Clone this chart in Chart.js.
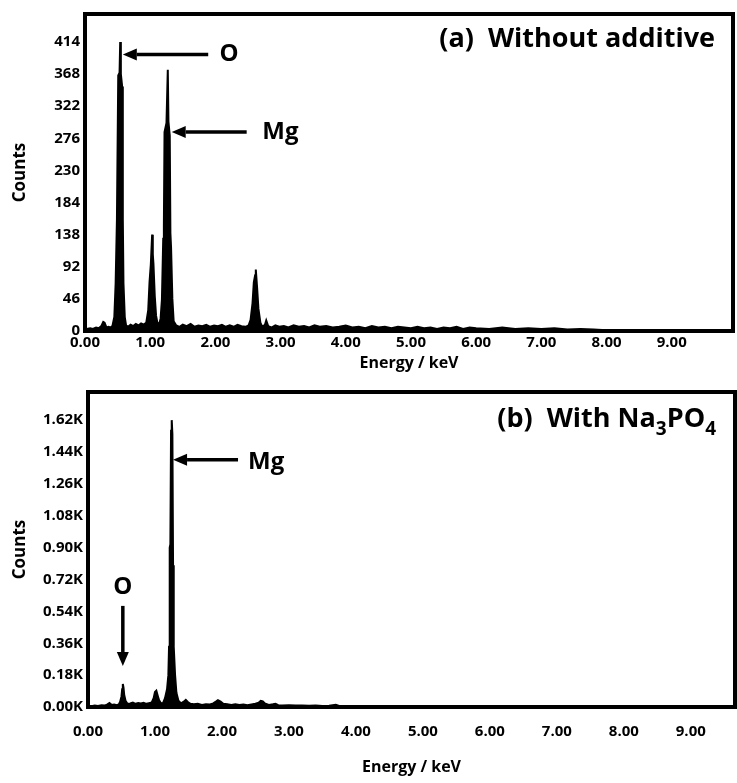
<!DOCTYPE html>
<html>
<head>
<meta charset="utf-8">
<script src="https://cdn.jsdelivr.net/npm/chart.js@4.4.1/dist/chart.umd.min.js"></script>
<style>
  html, body { margin: 0; padding: 0; background: #fff; }
  #wrap { position: relative; width: 737px; height: 783px; }
  .panel { position: absolute; left: 0; width: 737px; }
  #pa { top: 0; height: 378px; }
  #pb { top: 378px; height: 405px; }
</style>
</head>
<body>
<div id="wrap">
  <div class="panel" id="pa"><canvas id="chartA"></canvas></div>
  <div class="panel" id="pb"><canvas id="chartB"></canvas></div>
</div>
<script>
// panel (a): without additive
const energyA = [0.00, 0.03, 0.08, 0.12, 0.17, 0.21, 0.25, 0.28, 0.30, 0.33, 0.36, 0.39, 0.42, 0.45, 0.47, 0.49, 0.51, 0.53, 0.54, 0.55, 0.57, 0.58, 0.59, 0.61, 0.63, 0.66, 0.70, 0.74, 0.78, 0.82, 0.86, 0.90, 0.94, 0.97, 0.99, 1.01, 1.03, 1.04, 1.05, 1.07, 1.09, 1.11, 1.14, 1.16, 1.18, 1.20, 1.21, 1.22, 1.25, 1.27, 1.28, 1.30, 1.31, 1.32, 1.34, 1.36, 1.40, 1.45, 1.50, 1.56, 1.62, 1.68, 1.74, 1.80, 1.86, 1.92, 1.98, 2.04, 2.10, 2.16, 2.22, 2.28, 2.34, 2.40, 2.46, 2.51, 2.54, 2.57, 2.59, 2.61, 2.62, 2.64, 2.66, 2.69, 2.72, 2.76, 2.78, 2.81, 2.86, 2.92, 2.98, 3.05, 3.12, 3.20, 3.28, 3.36, 3.44, 3.52, 3.60, 3.70, 3.80, 3.90, 4.00, 4.10, 4.20, 4.30, 4.40, 4.50, 4.60, 4.70, 4.80, 4.90, 5.00, 5.10, 5.20, 5.30, 5.40, 5.50, 5.60, 5.70, 5.80, 5.90, 6.00, 6.20, 6.40, 6.60, 6.80, 7.00, 7.20, 7.40, 7.60, 7.80, 8.00, 8.50, 9.00, 9.94];
const countsA = [0, 3, 4, 3, 5, 4, 7, 13, 12, 5, 6, 5, 7, 20, 68, 160, 366, 370, 414, 368, 350, 160, 68, 20, 8, 6, 9, 7, 10, 8, 11, 9, 12, 30, 70, 96, 138, 110, 96, 50, 22, 12, 10, 18, 45, 132, 150, 285, 298, 374, 300, 280, 140, 120, 46, 14, 8, 6, 9, 7, 10, 6, 8, 7, 9, 6, 8, 7, 9, 6, 8, 6, 9, 7, 6, 8, 16, 40, 70, 80, 88, 62, 32, 12, 6, 9, 15, 7, 5, 8, 6, 7, 5, 8, 6, 7, 5, 8, 6, 7, 5, 6, 8, 5, 6, 4, 7, 5, 6, 4, 6, 5, 4, 6, 4, 5, 3, 5, 4, 6, 3, 5, 4, 3, 5, 3, 4, 3, 4, 2, 3, 2, 1, 1, 0, 0];
const yTicksA = [0, 46, 92, 138, 184, 230, 276, 322, 368, 414];

// panel (b): with Na3PO4
const energyB = [0.00, 0.05, 0.10, 0.15, 0.20, 0.25, 0.29, 0.32, 0.35, 0.39, 0.43, 0.46, 0.48, 0.50, 0.51, 0.52, 0.53, 0.54, 0.56, 0.59, 0.63, 0.67, 0.71, 0.75, 0.79, 0.83, 0.87, 0.91, 0.95, 0.98, 1.00, 1.02, 1.04, 1.06, 1.09, 1.12, 1.15, 1.18, 1.20, 1.21, 1.22, 1.23, 1.24, 1.25, 1.26, 1.27, 1.28, 1.30, 1.32, 1.35, 1.39, 1.43, 1.46, 1.49, 1.53, 1.58, 1.64, 1.70, 1.76, 1.82, 1.87, 1.91, 1.94, 1.98, 2.02, 2.08, 2.14, 2.20, 2.26, 2.32, 2.38, 2.44, 2.50, 2.55, 2.58, 2.61, 2.64, 2.70, 2.76, 2.80, 2.84, 2.90, 3.00, 3.10, 3.20, 3.30, 3.40, 3.50, 3.60, 3.70, 3.75, 3.90, 4.10, 4.30, 4.60, 5.00, 5.50, 6.00, 7.00, 8.00, 9.00, 9.66];
const countsB = [0, 5, 8, 6, 10, 8, 15, 22, 12, 14, 10, 15, 30, 60, 100, 130, 110, 70, 35, 18, 20, 25, 18, 22, 20, 24, 18, 22, 25, 50, 85, 92, 65, 40, 20, 22, 50, 100, 180, 340, 900, 920, 1560, 1620, 1540, 800, 340, 180, 80, 35, 20, 30, 40, 28, 18, 15, 18, 12, 15, 14, 20, 30, 38, 30, 18, 15, 12, 15, 12, 14, 10, 14, 18, 25, 35, 32, 20, 12, 15, 18, 10, 8, 10, 8, 9, 7, 8, 6, 7, 12, 6, 5, 6, 4, 5, 3, 3, 2, 2, 1, 1, 0];
const yTicksB = [0, 180, 360, 540, 720, 900, 1080, 1260, 1440, 1620];

const xTicks = [0, 1, 2, 3, 4, 5, 6, 7, 8, 9];

const FONT = "'Open Sans', 'DejaVu Sans', sans-serif";

// thick frame round the plot area plus arrows, element labels and panel title
const framePlugin = {
  id: 'frame',
  afterDraw(chart, args, opts) {
    const { ctx, chartArea: a, scales: { x, y } } = chart;
    ctx.save();
    ctx.strokeStyle = '#000';
    ctx.lineWidth = 4;
    ctx.strokeRect(a.left, a.top, a.right - a.left, a.bottom - a.top);

    ctx.fillStyle = '#000';
    (opts.arrows || []).forEach(ar => {
      const x1 = x.getPixelForValue(ar.from[0]), y1 = y.getPixelForValue(ar.from[1]);
      const x2 = x.getPixelForValue(ar.to[0]), y2 = y.getPixelForValue(ar.to[1]);
      const ang = Math.atan2(y2 - y1, x2 - x1);
      const hl = 14, hw = 6;
      const bx = x2 - hl * Math.cos(ang), by = y2 - hl * Math.sin(ang);
      ctx.lineWidth = 3.5;
      ctx.beginPath();
      ctx.moveTo(x1, y1);
      ctx.lineTo(bx, by);
      ctx.stroke();
      ctx.beginPath();
      ctx.moveTo(x2, y2);
      ctx.lineTo(bx + hw * Math.sin(ang), by - hw * Math.cos(ang));
      ctx.lineTo(bx - hw * Math.sin(ang), by + hw * Math.cos(ang));
      ctx.closePath();
      ctx.fill();
    });

    ctx.font = 'bold 24px ' + FONT;
    ctx.textBaseline = 'middle';
    (opts.labels || []).forEach(lb => {
      ctx.textAlign = lb.align || 'center';
      ctx.fillText(lb.text, x.getPixelForValue(lb.at[0]), y.getPixelForValue(lb.at[1]));
    });

    // title, right aligned, with optional subscript pieces
    if (opts.title) {
      const big = 'bold 27px ' + FONT, small = 'bold 19px ' + FONT;
      let w = 0;
      opts.title.forEach(p => { ctx.font = p.sub ? small : big; w += ctx.measureText(p.t).width; });
      let cx = a.right - opts.titleRight - w;
      const base = a.top + opts.titleBase;
      ctx.textAlign = 'left';
      ctx.textBaseline = 'alphabetic';
      opts.title.forEach(p => {
        ctx.font = p.sub ? small : big;
        ctx.fillText(p.t, cx, p.sub ? base + 8 : base);
        cx += ctx.measureText(p.t).width;
      });
    }
    ctx.restore();
  }
};

function makeChart(id, energy, counts, cfg) {
  return new Chart(document.getElementById(id), {
    type: 'line',
    data: {
      datasets: [{
        data: energy.map((e, i) => ({ x: e, y: counts[i] })),
        borderColor: '#000',
        backgroundColor: '#000',
        borderWidth: 2,
        pointRadius: 0,
        fill: 'origin',
        tension: 0
      }]
    },
    options: {
      responsive: true,
      maintainAspectRatio: false,
      animation: false,
      layout: { padding: cfg.padding },
      plugins: {
        legend: { display: false },
        tooltip: { enabled: false },
        frame: cfg.frame
      },
      scales: {
        x: {
          type: 'linear',
          min: 0,
          max: cfg.xMax,
          afterBuildTicks: s => { s.ticks = xTicks.map(v => ({ value: v })); },
          afterFit: s => { s.height = cfg.xHeight; },
          grid: { display: false, drawTicks: false },
          border: { display: false },
          ticks: {
            padding: cfg.xTickPad,
            color: '#000',
            maxRotation: 0,
            font: { family: FONT, size: 15, weight: 'bold' },
            callback: v => v.toFixed(2)
          },
          title: {
            display: true,
            text: 'Energy / keV',
            color: '#000',
            font: { family: FONT, size: 16, weight: 'bold' },
            padding: { top: 0, bottom: cfg.xTitlePad }
          }
        },
        y: {
          min: 0,
          max: cfg.yMax,
          afterBuildTicks: s => { s.ticks = cfg.yTicks.map(v => ({ value: v })); },
          afterFit: s => { s.width = cfg.yWidth; },
          grid: { display: false, drawTicks: false },
          border: { display: false },
          ticks: {
            padding: 5,
            color: '#000',
            font: { family: FONT, size: 15, weight: 'bold' },
            callback: cfg.yFormat
          },
          title: {
            display: true,
            text: 'Counts',
            color: '#000',
            font: { family: FONT, size: 17, weight: 'bold' },
            padding: { top: 10, bottom: 0 }
          }
        }
      }
    },
    plugins: [framePlugin]
  });
}

makeChart('chartA', energyA, countsA, {
  padding: { top: 10, right: 4, left: 0, bottom: 0 },
  xMax: 9.94, xHeight: 47, xTickPad: 3, xTitlePad: 5,
  yMax: 454, yTicks: yTicksA, yWidth: 85,
  yFormat: v => String(v),
  frame: {
    arrows: [
      { from: [1.89, 396], to: [0.58, 396] },
      { from: [2.48, 285], to: [1.33, 285] }
    ],
    labels: [
      { text: 'O', at: [2.21, 396] },
      { text: 'Mg', at: [2.72, 285], align: 'left' }
    ],
    title: [{ t: '(a)  Without additive' }],
    titleRight: 18, titleBase: 33
  }
});

makeChart('chartB', energyB, countsB, {
  padding: { top: 5, right: 2, left: 0, bottom: 0 },
  xMax: 9.66, xHeight: 76, xTickPad: 16, xTitlePad: 6,
  yMax: 1779, yTicks: yTicksB, yWidth: 88,
  yFormat: v => (v / 1000).toFixed(2) + 'K',
  frame: {
    arrows: [
      { from: [2.24, 1397], to: [1.27, 1397] },
      { from: [0.52, 571], to: [0.52, 231] }
    ],
    labels: [
      { text: 'O', at: [0.52, 675] },
      { text: 'Mg', at: [2.39, 1384], align: 'left' }
    ],
    title: [{ t: '(b)  With Na' }, { t: '3', sub: true }, { t: 'PO' }, { t: '4', sub: true }],
    titleRight: 19, titleBase: 35
  }
});
</script>
</body>
</html>
